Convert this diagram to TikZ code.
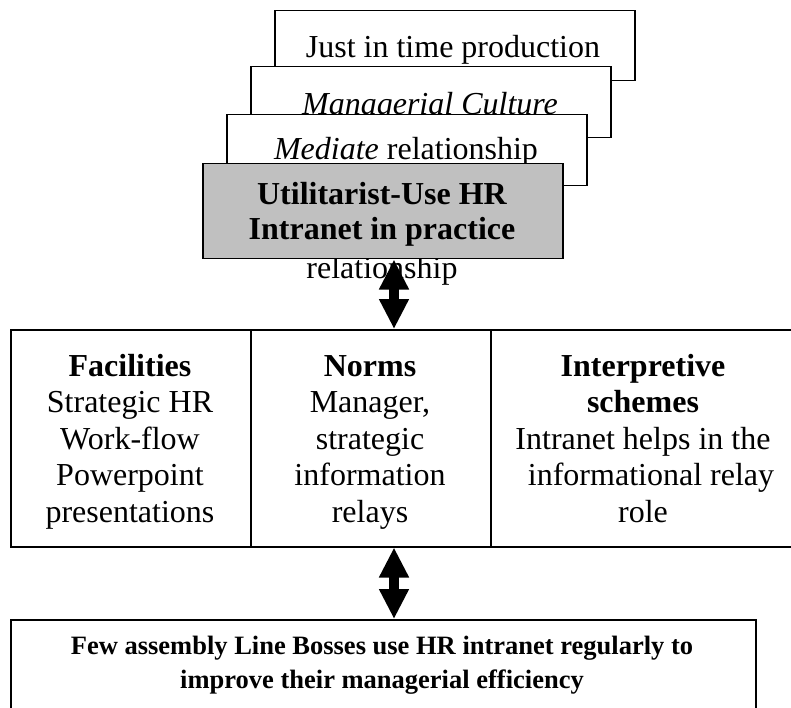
\documentclass[tikz,border=0pt]{standalone}
\usepackage{fontspec}
\setmainfont{Liberation Serif}
\usetikzlibrary{arrows.meta}
\definecolor{boxgray}{RGB}{192,192,192}
\begin{document}
\begin{tikzpicture}[x=1pt,y=-1pt,
  stackbox/.style={draw=black, line width=1.5pt, fill=white, minimum width=360pt, inner sep=0pt, anchor=north west, rectangle},
  bigtext/.style={font=\fontsize{32}{36.5}\selectfont, inner sep=0pt, anchor=base},
  cell/.style={draw=black, line width=1.5pt, minimum height=217pt, inner sep=0pt, anchor=north west, rectangle},
  celltext/.style={font=\fontsize{32}{36.5}\selectfont, align=center, inner sep=0pt, anchor=base},
  bigarrow/.style={line width=10pt, {Triangle[width=28pt,length=30pt]}-{Triangle[width=28pt,length=30pt]}}
]
\useasboundingbox (0,0) rectangle (791,708);
\fill[white] (0,0) rectangle (791,708);
\clip (0,0) rectangle (791,708);

% stacked boxes
\node[stackbox, minimum height=70pt] (b1) at (274,10) {};
\node[bigtext] (t1) at (453,58) {Just in time production};
\node[stackbox, minimum height=71pt] (b2) at (250,66) {};
\node[bigtext] (t2) at (430,115) {\itshape Managerial Culture};
\node[stackbox, minimum height=71pt] (b3) at (226,114) {};
\node[bigtext] (t3) at (406,160) {\textit{Mediate} relationship};
\node[bigtext] (rel) at (382,278) {relationship};
\node[stackbox, fill=boxgray, minimum height=95pt] (util) at (202,163) {};
\node[bigtext, align=center, font=\fontsize{32}{35}\selectfont\bfseries] (utxt) at (382,240) {Utilitarist-Use HR\\Intranet in practice};

% table
\node[cell, minimum width=240pt] (fac) at (10,329) {};
\node[cell, minimum width=240pt] (norms) at (250,329) {};
\node[cell, minimum width=310pt] (interp) at (490,329) {};
\node[celltext] (factxt) at (130,522) {\textbf{Facilities}\\Strategic HR\\Work-flow\\Powerpoint\\presentations};
\node[celltext] (normstxt) at (370,522) {\textbf{Norms}\\Manager,\\strategic\\information\\relays};
\node[celltext] (interptxt) at (643,522) {\textbf{Interpretive}\\\textbf{schemes}\\Intranet helps in the\\\hspace*{0.5em}informational relay\\role};

% bottom box
\node[cell, minimum width=745pt, minimum height=140pt] (bottom) at (10,619) {};
\node[inner sep=0pt, anchor=base, align=center, font=\fontsize{26.5}{34}\selectfont\bfseries] (bottomtxt) at (382,688) {Few assembly Line Bosses use HR intranet regularly to\\improve their managerial efficiency};

% arrows
\coordinate (ax) at (394,0);
\draw[bigarrow] (util.south -| ax) -- (norms.north -| ax);
\draw[bigarrow] (norms.south -| ax) -- (bottom.north -| ax);
\end{tikzpicture}
\end{document}
